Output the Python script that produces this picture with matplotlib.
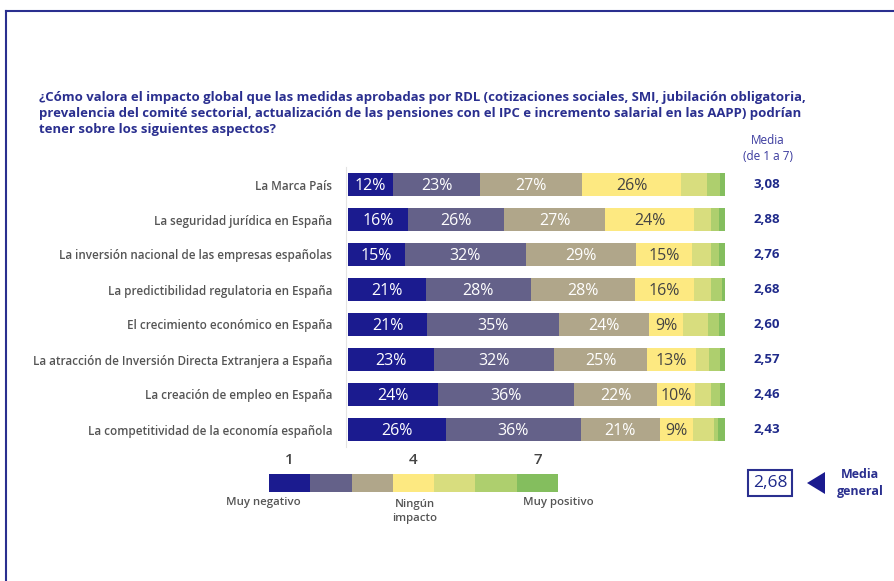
import matplotlib
matplotlib.use("Agg")
import matplotlib.pyplot as plt
import numpy as np

plt.rcParams['font.family'] = ['Open Sans', 'DejaVu Sans']

# Data (share of answers per level, 1 = muy negativo ... 7 = muy positivo)
aspectos = [
    "La Marca País",
    "La seguridad jurídica en España",
    "La inversión nacional de las empresas españolas",
    "La predictibilidad regulatoria en España",
    "El crecimiento económico en España",
    "La atracción de Inversión Directa Extranjera a España",
    "La creación de empleo en España",
    "La competitividad de la economía española",
]
nivel_1 = [12, 16, 15, 21, 21, 23, 24, 26]
nivel_2 = [23, 26, 32, 28, 35, 32, 36, 36]
nivel_3 = [27, 27, 29, 28, 24, 25, 22, 21]
nivel_4 = [26, 24, 15, 16, 9, 13, 10, 9]
nivel_5 = [7, 4.5, 4.8, 4.5, 6.5, 3.6, 4.3, 5.5]
nivel_6 = [3.4, 2, 2.1, 2.8, 3, 2.9, 2.4, 1]
nivel_7 = [1.3, 1.7, 1.7, 0.9, 1.6, 1.3, 1.3, 1.9]
medias = [3.08, 2.88, 2.76, 2.68, 2.60, 2.57, 2.46, 2.43]
media_general = 2.68
escala = [1, 2, 3, 4, 5, 6, 7]
escala_ticks = ["1", "", "", "4", "", "", "7"]

colores = ['#1b1b8f', '#646189', '#b0a68a', '#fde981', '#d8dd7e', '#aecf6e', '#84be5e']
azul = '#2a2f8f'
gris = '#555555'

W, H = 895, 581
fig = plt.figure(figsize=(W / 100, H / 100), dpi=100)

def fx(px):
    return px / W

def fy(py):
    return 1 - py / H

# overlay in pixel coords for frame and triangle
deco = fig.add_axes([0, 0, 1, 1], zorder=0)
deco.set_xlim(0, W)
deco.set_ylim(H, 0)
deco.axis('off')
deco.plot([6, W], [11, 11], color=azul, lw=1.5)
deco.plot([6, 6], [11, H], color=azul, lw=1.5)
deco.fill([807, 825, 825], [483, 472, 494], color='#1b1b8f', lw=0)

# title
titulo = [
    "¿Cómo valora el impacto global que las medidas aprobadas por RDL (cotizaciones sociales, SMI, jubilación obligatoria,",
    "prevalencia del comité sectorial, actualización de las pensiones con el IPC e incremento salarial en las AAPP) podrían",
    "tener sobre los siguientes aspectos?",
]
for k, linea in enumerate(titulo):
    fig.text(fx(39), fy(98 + 15.6 * k), linea, fontsize=9.45, fontweight='bold',
             color=azul, ha='left', va='center')

# main stacked bars
ax = fig.add_axes([fx(348), fy(447), fx(725) - fx(348), (447 - 167) / H], zorder=1)
for s in ['top', 'right', 'bottom']:
    ax.spines[s].set_visible(False)
ax.spines['left'].set_color('#e3e3e3')
ax.spines['left'].set_position(('data', -0.5))

niveles = np.array([nivel_1, nivel_2, nivel_3, nivel_4, nivel_5, nivel_6, nivel_7], dtype=float)
totales = niveles.sum(axis=0)
y = np.arange(len(aspectos))
izq = np.zeros(len(aspectos))
for j in range(7):
    ancho = niveles[j] / totales * 100
    ax.barh(y, ancho, left=izq, height=0.67, color=colores[j], edgecolor='none')
    if j < 4:
        for i in range(len(aspectos)):
            ax.text(izq[i] + ancho[i] / 2, y[i] + 0.03, f"{int(niveles[j][i])}%",
                    ha='center', va='center', fontsize=11.5,
                    color='white' if j < 3 else '#444444')
    izq = izq + ancho

ax.set_xlim(0, 100)
ax.set_ylim(len(aspectos) - 0.5, -0.5)
ax.set_xticks([])
ax.set_yticks(y)
ax.set_yticklabels(aspectos, fontsize=8.4, fontweight='semibold', color=gris)
ax.tick_params(axis='y', length=0, pad=10)

for i, m in enumerate(medias):
    ax.text(1.111, y[i], f"{m:.2f}".replace('.', ','), transform=ax.get_yaxis_transform(),
            ha='center', va='center', fontsize=9.5, fontweight='bold', color='#1f2a8a')

fig.text(fx(768), fy(141), "Media", ha='center', va='center', fontsize=8.5, color='#3a3a9e')
fig.text(fx(768), fy(156), "(de 1 a 7)", ha='center', va='center', fontsize=8.5, color='#3a3a9e')

# legend scale
lg = fig.add_axes([fx(269), fy(491.7), fx(558) - fx(269), 18 / H], zorder=1)
lg.barh(0, [1] * 7, left=np.array(escala) - 0.5, height=1, color=colores, edgecolor='none')
lg.set_xlim(0.5, 7.5)
lg.set_ylim(-0.5, 0.5)
lg.axis('off')
for e, t in zip(escala, escala_ticks):
    if t:
        lg.text(e, 1.25, t, ha='center', va='center', fontsize=11,
                fontweight='semibold', color='#444444')

fig.text(fx(263), fy(503), "Muy negativo", ha='center', va='center', fontsize=8.2,
         fontweight='semibold', color=gris)
fig.text(fx(415), fy(505), "Ningún", ha='center', va='center', fontsize=8.2,
         fontweight='semibold', color=gris)
fig.text(fx(415), fy(519), "impacto", ha='center', va='center', fontsize=8.2,
         fontweight='semibold', color=gris)
fig.text(fx(558), fy(503), "Muy positivo", ha='center', va='center', fontsize=8.2,
         fontweight='semibold', color=gris)

# general mean box
fig.text(fx(770), fy(483), f"{media_general:.2f}".replace('.', ','), ha='center', va='center',
         fontsize=12.5, color='#1f2a8a',
         bbox=dict(boxstyle='square,pad=0.3', fc='white', ec=azul, lw=1.5))
fig.text(fx(860), fy(475), "Media", ha='center', va='center', fontsize=9,
         fontweight='bold', color=azul)
fig.text(fx(860), fy(492), "general", ha='center', va='center', fontsize=9,
         fontweight='bold', color=azul)

fig.savefig("out.png", dpi=100)
